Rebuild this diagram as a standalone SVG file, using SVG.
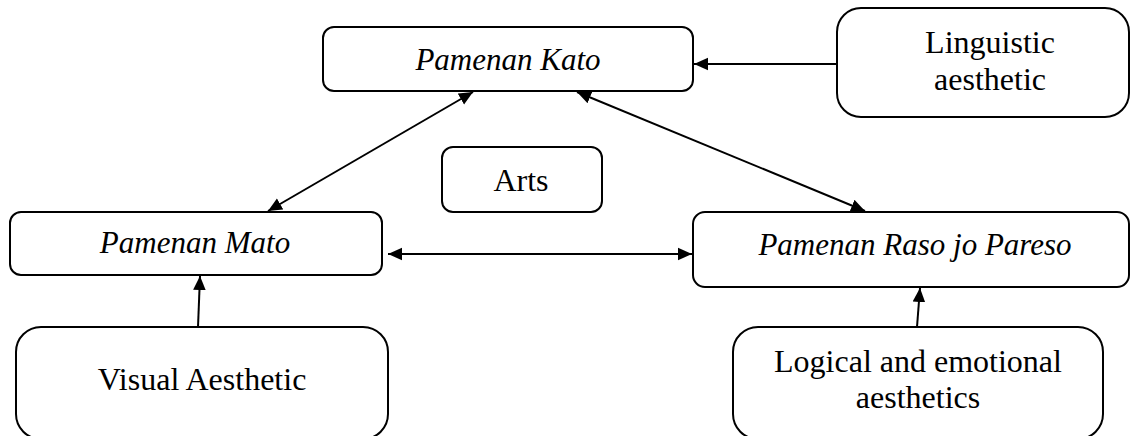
<svg xmlns="http://www.w3.org/2000/svg" width="1132" height="436" viewBox="0 0 1132 436">
  <style>
    .box { fill: #ffffff; stroke: #000000; stroke-width: 2; }
    .lbl { font-family: "Liberation Serif", "Times New Roman", serif; font-size: 32px; fill: #000000; text-anchor: middle; }
    .it { font-style: italic; font-size: 31px; }
    .edge { stroke: #000000; stroke-width: 2; fill: none; }
  </style>
  <defs>
    <marker id="head" viewBox="0 0 10 10" refX="10" refY="5" markerWidth="7" markerHeight="7" markerUnits="strokeWidth" orient="auto-start-reverse">
      <path d="M0,0.5 L10,5 L0,9.5 Z" fill="#000000"/>
    </marker>
  </defs>
  <rect width="1132" height="436" fill="#ffffff"/>

  <g id="connectors">
    <line class="edge" x1="837" y1="64" x2="694" y2="64" marker-end="url(#head)"/>
    <line class="edge" x1="473" y1="92" x2="268" y2="211" marker-start="url(#head)" marker-end="url(#head)"/>
    <line class="edge" x1="577" y1="92" x2="865" y2="211" marker-start="url(#head)" marker-end="url(#head)"/>
    <line class="edge" x1="388" y1="254" x2="692" y2="254" marker-start="url(#head)" marker-end="url(#head)"/>
    <line class="edge" x1="198" y1="327" x2="200" y2="276" marker-end="url(#head)"/>
    <line class="edge" x1="917" y1="327" x2="920" y2="288" marker-end="url(#head)"/>
  </g>

  <g id="pamenan-kato">
    <rect class="box" x="323" y="27" width="370" height="64" rx="11"/>
    <text class="lbl it" x="508" y="70">Pamenan Kato</text>
  </g>

  <g id="linguistic-aesthetic">
    <rect class="box" x="837" y="8" width="292" height="109" rx="24"/>
    <text class="lbl" x="990" y="53">Linguistic</text>
    <text class="lbl" x="990" y="90">aesthetic</text>
  </g>

  <g id="arts">
    <rect class="box" x="442" y="147" width="160" height="65" rx="11"/>
    <text class="lbl" x="521" y="191">Arts</text>
  </g>

  <g id="pamenan-mato">
    <rect class="box" x="10" y="212" width="372" height="63" rx="11"/>
    <text class="lbl it" x="195" y="253">Pamenan Mato</text>
  </g>

  <g id="pamenan-raso-jo-pareso">
    <rect class="box" x="693" y="212" width="436" height="75" rx="12"/>
    <text class="lbl it" x="915" y="255">Pamenan Raso jo Pareso</text>
  </g>

  <g id="visual-aesthetic">
    <rect class="box" x="16" y="327" width="372" height="112" rx="25"/>
    <text class="lbl" x="202" y="390">Visual Aesthetic</text>
  </g>

  <g id="logical-emotional-aesthetics">
    <rect class="box" x="733" y="327" width="370" height="112" rx="25"/>
    <text class="lbl" x="918" y="372">Logical and emotional</text>
    <text class="lbl" x="918" y="408">aesthetics</text>
  </g>
</svg>
